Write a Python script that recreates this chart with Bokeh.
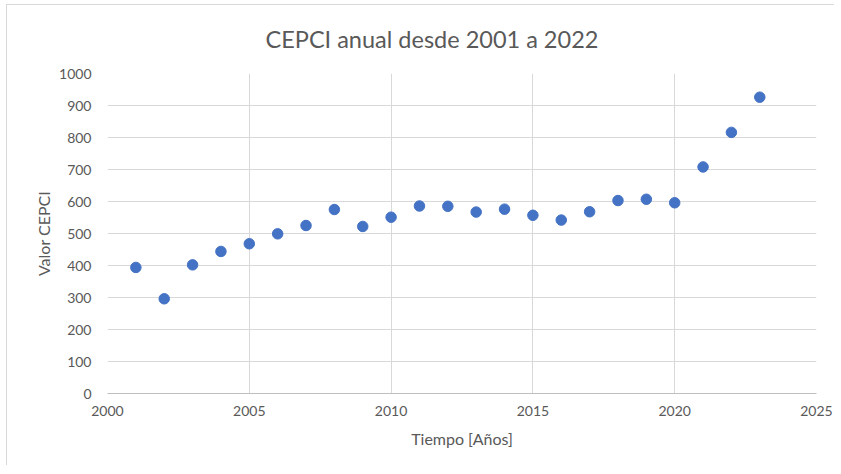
from bokeh.plotting import figure
from bokeh.models import ColumnDataSource, Range1d, FixedTicker
from bokeh.embed import file_html
from bokeh.resources import INLINE

years = [2001, 2002, 2003, 2004, 2005, 2006, 2007, 2008, 2009, 2010, 2011, 2012,
         2013, 2014, 2015, 2016, 2017, 2018, 2019, 2020, 2021, 2022, 2023]
cepci = [394, 296, 402, 444, 468, 499, 525, 575, 522, 551, 586, 585,
         567, 576, 557, 542, 568, 603, 607, 596, 708, 816, 926]
x_ticks = [2000, 2005, 2010, 2015, 2020, 2025]
y_ticks = [0, 100, 200, 300, 400, 500, 600, 700, 800, 900, 1000]
title_text = "CEPCI anual desde 2001 a 2022"

FONT = "Lato"
GREY = "#595959"

src = ColumnDataSource(dict(x=years, y=cepci))

p = figure(width=828, height=461, output_backend="svg", toolbar_location=None,
           x_range=Range1d(2000, 2025), y_range=Range1d(0, 1000),
           min_border_left=100, min_border_right=19, min_border_top=68, min_border_bottom=73,
           title=title_text)
p.styles = {"margin-left": "6px", "margin-top": "4px",
            "border-left": "1px solid #d9d9d9", "border-top": "1px solid #d9d9d9"}

p.title.align = "left"
p.title.vertical_align = "top"
p.title.offset = 158
p.title.text_font = FONT
p.title.text_font_size = "23.5px"
p.title.text_font_style = "normal"
p.title.text_color = GREY
p.title.standoff = 37

p.outline_line_color = None

p.xaxis.ticker = FixedTicker(ticks=x_ticks)
p.yaxis.ticker = FixedTicker(ticks=y_ticks)
p.xgrid.ticker = FixedTicker(ticks=x_ticks)
p.ygrid.ticker = FixedTicker(ticks=y_ticks)
p.grid.grid_line_color = "#d9d9d9"
p.grid.grid_line_width = 1

for ax in (p.xaxis, p.yaxis):
    ax.major_tick_line_color = None
    ax.minor_tick_line_color = None
    ax.major_label_text_font = FONT
    ax.major_label_text_font_size = "14px"
    ax.major_label_text_color = GREY
    ax.axis_label_text_font = FONT
    ax.axis_label_text_font_size = "16px"
    ax.axis_label_text_font_style = "normal"
    ax.axis_label_text_color = GREY

p.xaxis.major_label_standoff = 6
p.xaxis.axis_label_standoff = 10
p.yaxis.major_label_standoff = 10
p.yaxis.axis_label_standoff = 3

p.xaxis.axis_label = "Tiempo [Años]"
p.yaxis.axis_label = "Valor CEPCI"
p.xaxis.axis_line_color = "#bfbfbf"
p.yaxis.axis_line_color = None

p.scatter("x", "y", source=src, size=10.5, fill_color="#4472C4", line_color="#4472C4")

open("out.html", "w").write(file_html(p, INLINE))
